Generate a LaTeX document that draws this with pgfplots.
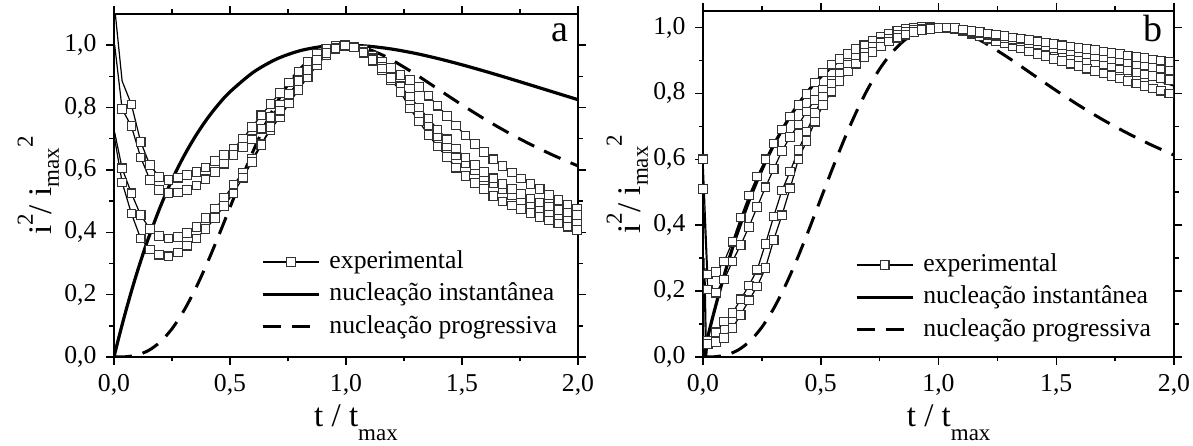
\documentclass[border=0pt]{standalone}
\usepackage{fontspec}
\setmainfont{Liberation Serif}
\usepackage{pgfplots}
\pgfplotsset{compat=1.18}
\newcommand{\tickfont}{\fontsize{25.7}{28}\selectfont}
\newcommand{\labfont}{\fontsize{33}{36}\selectfont}
\newcommand{\subfont}{\fontsize{23}{24}\selectfont}
\newcommand{\letfont}{\fontsize{38}{40}\selectfont}
\pgfplotsset{
  panel/.style={
    scale only axis,
    xmin=0, xmax=2, ymin=0,
    xtick={0,0.5,1,1.5,2},
    ytick={0,0.2,0.4,0.6,0.8,1.0},
    minor x tick num=1, minor y tick num=1,
    tick align=outside, tick pos=both,
    major tick length=8pt, minor tick length=4.5pt,
    every tick/.style={black, line width=1.5pt},
    axis line style={line width=1.8pt},
    tick label style={font=\tickfont},
    /pgf/number format/use comma,
    /pgf/number format/fixed,
    /pgf/number format/fixed zerofill,
    /pgf/number format/precision=1,
    /pgf/number format/assume math mode=true,
    xticklabel style={yshift=-6pt},
    yticklabel style={xshift=-6pt},
    label style={font=\labfont},
    xlabel={t / t\raisebox{-14pt}{\subfont max}},
    ylabel={i\raisebox{19pt}{\subfont 2}/ i\raisebox{-7pt}{\subfont max}\raisebox{19pt}{\subfont 2}},
    legend cell align=left,
    legend style={draw=none, fill=none, font=\tickfont, inner sep=0pt, row sep=4.8pt,
      nodes={font=\tickfont, inner sep=1pt, text height=19.3pt, text depth=6.4pt},
      /tikz/every odd column/.append style={column sep=8pt}},
    legend image code/.code={\draw[mark repeat=2,mark phase=2,##1] plot coordinates {(0pt,0pt) (28pt,0pt) (56pt,0pt)};},
  },
  exp/.style={black, line width=1.2pt, mark=square*, mark size=4.3pt,
    mark options={fill=white, draw=black!80, line width=1.1pt, solid}},
  inst/.style={black, line width=3.2pt, smooth, no markers},
  prog/.style={black, line width=3pt, dash pattern=on 18pt off 11pt, smooth, no markers},
}
\begin{document}
\begin{tikzpicture}
\useasboundingbox (0,0) rectangle (1193pt,446pt);
% ---------------- panel a ----------------
\begin{axis}[panel, at={(114pt,89pt)}, anchor=south west, width=464pt, height=343pt, ymax=1.1,
  xlabel style={at={(axis description cs:0.5216,-0.204)}, anchor=base},
  ylabel style={at={(axis description cs:-0.134,0.5)}, anchor=base},
  legend style={at={(axis cs:0.634,0.350)}, anchor=north west}]
\addplot[exp, mark phase=2] coordinates {(0.003,1.12) (0.035,0.885) (0.075,0.81) (0.115,0.69) (0.155,0.615) (0.195,0.578) (0.235,0.567) (0.275,0.575) (0.315,0.583) (0.355,0.594) (0.395,0.608) (0.435,0.628) (0.475,0.648) (0.515,0.668) (0.555,0.70) (0.595,0.738) (0.635,0.775) (0.675,0.812) (0.715,0.846) (0.755,0.88) (0.795,0.915) (0.835,0.948) (0.875,0.972) (0.915,0.988) (0.955,0.998) (0.995,1.0) (1.035,0.996) (1.075,0.985) (1.115,0.966) (1.155,0.948) (1.195,0.926) (1.235,0.905) (1.275,0.888) (1.315,0.866) (1.355,0.838) (1.395,0.806) (1.435,0.773) (1.475,0.742) (1.515,0.71) (1.555,0.683) (1.595,0.657) (1.635,0.634) (1.675,0.612) (1.715,0.592) (1.755,0.572) (1.795,0.555) (1.835,0.538) (1.875,0.52) (1.915,0.503) (1.955,0.489) (1.995,0.476)};
\addlegendentry{experimental}
\addplot[exp, mark phase=2, forget plot] coordinates {(0.003,1.0) (0.035,0.795) (0.075,0.74) (0.115,0.64) (0.155,0.568) (0.195,0.535) (0.235,0.526) (0.275,0.528) (0.315,0.536) (0.355,0.55) (0.395,0.57) (0.435,0.593) (0.475,0.62) (0.515,0.647) (0.555,0.673) (0.595,0.698) (0.635,0.732) (0.675,0.77) (0.715,0.81) (0.755,0.843) (0.795,0.882) (0.835,0.92) (0.875,0.951) (0.915,0.975) (0.955,0.99) (0.995,0.999) (1.035,0.993) (1.075,0.976) (1.115,0.95) (1.155,0.92) (1.195,0.888) (1.235,0.852) (1.275,0.815) (1.315,0.778) (1.355,0.742) (1.395,0.708) (1.435,0.677) (1.475,0.648) (1.515,0.622) (1.555,0.598) (1.595,0.576) (1.635,0.556) (1.675,0.537) (1.715,0.52) (1.755,0.504) (1.795,0.489) (1.835,0.475) (1.875,0.462) (1.915,0.45) (1.955,0.44) (1.995,0.43)};
\addplot[exp, mark phase=2, forget plot] coordinates {(0.003,0.72) (0.035,0.605) (0.075,0.525) (0.115,0.455) (0.155,0.41) (0.195,0.388) (0.235,0.38) (0.275,0.385) (0.315,0.398) (0.355,0.417) (0.395,0.445) (0.435,0.476) (0.475,0.51) (0.515,0.553) (0.555,0.59) (0.595,0.635) (0.635,0.683) (0.675,0.728) (0.715,0.77) (0.755,0.813) (0.795,0.857) (0.835,0.898) (0.875,0.935) (0.915,0.968) (0.955,0.988) (0.995,0.998) (1.035,0.995) (1.075,0.98) (1.115,0.958) (1.155,0.93) (1.195,0.9) (1.235,0.868) (1.275,0.835) (1.315,0.8) (1.355,0.765) (1.395,0.73) (1.435,0.698) (1.475,0.668) (1.515,0.64) (1.555,0.615) (1.595,0.593) (1.635,0.573) (1.675,0.555) (1.715,0.538) (1.755,0.522) (1.795,0.508) (1.835,0.495) (1.875,0.483) (1.915,0.472) (1.955,0.463) (1.995,0.455)};
\addplot[exp, mark phase=2, forget plot] coordinates {(0.003,0.70) (0.035,0.56) (0.075,0.46) (0.115,0.38) (0.155,0.345) (0.195,0.328) (0.235,0.323) (0.275,0.335) (0.315,0.357) (0.355,0.38) (0.395,0.41) (0.435,0.445) (0.475,0.485) (0.515,0.525) (0.555,0.575) (0.595,0.625) (0.635,0.68) (0.675,0.738) (0.715,0.79) (0.755,0.843) (0.795,0.885) (0.835,0.92) (0.875,0.953) (0.915,0.975) (0.955,0.99) (0.995,0.999) (1.035,0.993) (1.075,0.977) (1.115,0.952) (1.155,0.925) (1.195,0.895) (1.235,0.85) (1.275,0.797) (1.315,0.755) (1.355,0.712) (1.395,0.675) (1.435,0.641) (1.475,0.607) (1.515,0.58) (1.555,0.558) (1.595,0.538) (1.635,0.517) (1.675,0.499) (1.715,0.486) (1.755,0.474) (1.795,0.461) (1.835,0.449) (1.875,0.438) (1.915,0.428) (1.955,0.418) (1.995,0.408)};
\addplot[inst] coordinates {(0,0) (0.005,0.0153) (0.01,0.0305) (0.02,0.0602) (0.035,0.1033) (0.05,0.1449) (0.075,0.2107) (0.1,0.2724) (0.125,0.3302) (0.15,0.3844) (0.2,0.4825) (0.25,0.5681) (0.3,0.6424) (0.35,0.7068) (0.4,0.7624) (0.45,0.8099) (0.5,0.8503) (0.6,0.9129) (0.7,0.9553) (0.8,0.9819) (0.9,0.9959) (1.0,1.0) (1.1,0.9964) (1.2,0.9872) (1.3,0.9735) (1.4,0.9565) (1.5,0.9371) (1.6,0.9161) (1.7,0.8940) (1.8,0.8712) (1.9,0.8482) (2.0,0.8252)};
\addlegendentry{nucleação instantânea}
\addplot[prog] coordinates {(0,0) (0.05,0.0008) (0.1,0.0065) (0.15,0.0214) (0.2,0.0488) (0.25,0.0905) (0.3,0.147) (0.35,0.217) (0.4,0.2981) (0.45,0.387) (0.5,0.4798) (0.55,0.5723) (0.6,0.6608) (0.65,0.7421) (0.7,0.8137) (0.75,0.8739) (0.8,0.9221) (0.85,0.9579) (0.9,0.9822) (0.95,0.9958) (1.0,0.9999) (1.05,0.9963) (1.1,0.9861) (1.15,0.9708) (1.2,0.9518) (1.3,0.9066) (1.4,0.8574) (1.5,0.8084) (1.6,0.762) (1.7,0.7191) (1.8,0.6801) (1.9,0.6447) (2.0,0.6127)};
\addlegendentry{nucleação progressiva}
\node[anchor=north east, inner sep=0pt, font=\letfont, xshift=-9pt, yshift=-9pt] at (rel axis cs:1,1) {a};
\end{axis}
% ---------------- panel b ----------------
\begin{axis}[panel, at={(703pt,89pt)}, anchor=south west, width=471pt, height=346pt, ymax=1.05,
  xlabel style={at={(axis description cs:0.5216,-0.202)}, anchor=base},
  ylabel style={at={(axis description cs:-0.132,0.5)}, anchor=base},
  legend style={at={(axis cs:0.645,0.322)}, anchor=north west}]
\addplot[exp] coordinates {(0,0.6) (0.02,0.25) (0.055,0.258) (0.09,0.29) (0.125,0.35) (0.16,0.423) (0.195,0.49) (0.23,0.548) (0.265,0.6) (0.3,0.648) (0.335,0.69) (0.37,0.73) (0.405,0.765) (0.44,0.798) (0.475,0.833) (0.51,0.863) (0.545,0.887) (0.58,0.904) (0.615,0.92) (0.65,0.934) (0.685,0.946) (0.72,0.959) (0.755,0.971) (0.79,0.982) (0.825,0.99) (0.86,0.996) (0.895,0.999) (0.93,1.001) (0.965,1.001) (1.0,1.0) (1.035,0.999) (1.07,0.997) (1.105,0.991) (1.14,0.985) (1.175,0.978) (1.21,0.972) (1.245,0.966) (1.28,0.96) (1.315,0.954) (1.35,0.948) (1.385,0.942) (1.42,0.936) (1.455,0.93) (1.49,0.924) (1.525,0.918) (1.56,0.912) (1.595,0.906) (1.63,0.9) (1.665,0.894) (1.7,0.888) (1.735,0.882) (1.77,0.876) (1.805,0.87) (1.84,0.864) (1.875,0.858) (1.91,0.852) (1.945,0.846) (1.98,0.84)};
\addlegendentry{experimental}
\addplot[exp, forget plot] coordinates {(0,0.51) (0.02,0.205) (0.055,0.195) (0.09,0.235) (0.125,0.29) (0.16,0.34) (0.195,0.395) (0.23,0.455) (0.265,0.515) (0.3,0.57) (0.335,0.625) (0.37,0.668) (0.405,0.705) (0.44,0.745) (0.475,0.78) (0.51,0.81) (0.545,0.838) (0.58,0.862) (0.615,0.885) (0.65,0.905) (0.685,0.922) (0.72,0.938) (0.755,0.953) (0.79,0.966) (0.825,0.976) (0.86,0.985) (0.895,0.991) (0.93,0.996) (0.965,0.999) (1.0,1.0) (1.035,0.999) (1.07,0.996) (1.105,0.988) (1.14,0.981) (1.175,0.973) (1.21,0.966) (1.245,0.958) (1.28,0.951) (1.315,0.943) (1.35,0.936) (1.385,0.928) (1.42,0.92) (1.455,0.913) (1.49,0.905) (1.525,0.898) (1.56,0.89) (1.595,0.883) (1.63,0.875) (1.665,0.868) (1.7,0.86) (1.735,0.853) (1.77,0.845) (1.805,0.838) (1.84,0.83) (1.875,0.823) (1.91,0.815) (1.945,0.808) (1.98,0.8)};
\addplot[exp, mark phase=3, forget plot] coordinates {(0.004,0.3) (0.011,0.0) (0.02,0.048) (0.055,0.075) (0.09,0.108) (0.125,0.133) (0.16,0.175) (0.195,0.217) (0.23,0.265) (0.265,0.343) (0.3,0.426) (0.335,0.505) (0.37,0.563) (0.405,0.628) (0.44,0.684) (0.475,0.74) (0.51,0.789) (0.545,0.828) (0.58,0.861) (0.615,0.887) (0.65,0.907) (0.685,0.924) (0.72,0.94) (0.755,0.955) (0.79,0.966) (0.825,0.977) (0.86,0.986) (0.895,0.992) (0.93,0.996) (0.965,0.999) (1.0,1.0) (1.035,1.0) (1.07,0.997) (1.105,0.992) (1.14,0.987) (1.175,0.983) (1.21,0.978) (1.245,0.973) (1.28,0.968) (1.315,0.963) (1.35,0.958) (1.385,0.953) (1.42,0.948) (1.455,0.943) (1.49,0.938) (1.525,0.934) (1.56,0.929) (1.595,0.924) (1.63,0.919) (1.665,0.914) (1.7,0.909) (1.735,0.904) (1.77,0.899) (1.805,0.894) (1.84,0.889) (1.875,0.885) (1.91,0.88) (1.945,0.875) (1.98,0.87)};
\addplot[exp, mark phase=3, forget plot] coordinates {(0.008,0.27) (0.015,0.0) (0.02,0.04) (0.055,0.045) (0.09,0.058) (0.125,0.088) (0.16,0.128) (0.195,0.172) (0.23,0.214) (0.265,0.27) (0.3,0.355) (0.335,0.43) (0.37,0.512) (0.405,0.6) (0.44,0.655) (0.475,0.714) (0.51,0.765) (0.545,0.805) (0.58,0.838) (0.615,0.866) (0.65,0.89) (0.685,0.91) (0.72,0.926) (0.755,0.942) (0.79,0.957) (0.825,0.969) (0.86,0.978) (0.895,0.986) (0.93,0.992) (0.965,0.996) (1.0,0.999) (1.035,1.0) (1.07,0.998) (1.105,0.994) (1.14,0.99) (1.175,0.986) (1.21,0.982) (1.245,0.978) (1.28,0.974) (1.315,0.97) (1.35,0.966) (1.385,0.962) (1.42,0.958) (1.455,0.954) (1.49,0.95) (1.525,0.946) (1.56,0.942) (1.595,0.938) (1.63,0.934) (1.665,0.931) (1.7,0.927) (1.735,0.923) (1.77,0.919) (1.805,0.915) (1.84,0.911) (1.875,0.907) (1.91,0.903) (1.945,0.899) (1.98,0.895)};
\addplot[inst] coordinates {(0,0) (0.005,0.0153) (0.01,0.0305) (0.02,0.0602) (0.035,0.1033) (0.05,0.1449) (0.075,0.2107) (0.1,0.2724) (0.125,0.3302) (0.15,0.3844) (0.2,0.4825) (0.25,0.5681) (0.3,0.6424) (0.35,0.7068) (0.4,0.7624) (0.45,0.8099) (0.5,0.8503) (0.6,0.9129) (0.7,0.9553) (0.8,0.9819) (0.9,0.9959) (1.0,1.0) (1.1,0.9964) (1.2,0.9872) (1.3,0.9735) (1.4,0.9565) (1.5,0.9371) (1.6,0.9161) (1.7,0.8940) (1.8,0.8712) (1.9,0.8482) (2.0,0.8252)};
\addlegendentry{nucleação instantânea}
\addplot[prog] coordinates {(0,0) (0.05,0.0008) (0.1,0.0065) (0.15,0.0214) (0.2,0.0488) (0.25,0.0905) (0.3,0.147) (0.35,0.217) (0.4,0.2981) (0.45,0.387) (0.5,0.4798) (0.55,0.5723) (0.6,0.6608) (0.65,0.7421) (0.7,0.8137) (0.75,0.8739) (0.8,0.9221) (0.85,0.9579) (0.9,0.9822) (0.95,0.9958) (1.0,0.9999) (1.05,0.9963) (1.1,0.9861) (1.15,0.9708) (1.2,0.9518) (1.3,0.9066) (1.4,0.8574) (1.5,0.8084) (1.6,0.762) (1.7,0.7191) (1.8,0.6801) (1.9,0.6447) (2.0,0.6127)};
\addlegendentry{nucleação progressiva}
\node[anchor=north east, inner sep=0pt, font=\letfont, xshift=-11pt, yshift=-4pt] at (rel axis cs:1,1) {b};
\end{axis}
\end{tikzpicture}
\end{document}
